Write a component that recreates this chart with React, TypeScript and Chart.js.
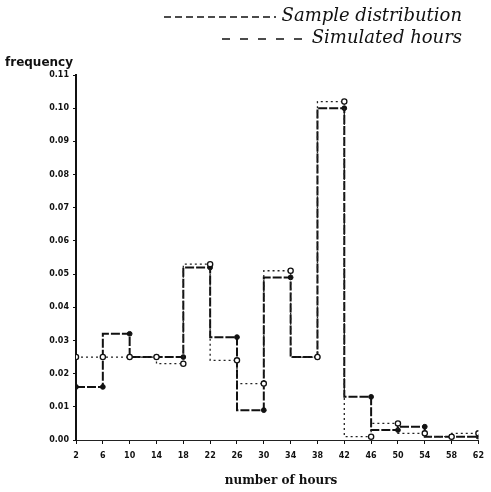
import React, { useEffect, useRef } from "react";
import { Chart, registerables } from "chart.js";

Chart.register(...registerables);

// bin edges (number of hours)
const binEdges = [2, 6, 10, 14, 18, 22, 26, 30, 34, 38, 42, 46, 50, 54, 58, 62];
// frequency per bin (15 bins: 2-6, 6-10, ..., 58-62)
const sampleFreq = [0.025, 0.025, 0.025, 0.023, 0.053, 0.024, 0.017, 0.051, 0.025, 0.102, 0.001, 0.005, 0.002, 0.001, 0.002];
const simulatedFreq = [0.016, 0.032, 0.025, 0.025, 0.052, 0.031, 0.009, 0.049, 0.025, 0.100, 0.013, 0.003, 0.004, 0.001, 0.001];
const yTickValues = [0, 0.01, 0.02, 0.03, 0.04, 0.05, 0.06, 0.07, 0.08, 0.09, 0.1, 0.11];

const legendLabels = ["Sample distribution", "Simulated hours"];
const yTitle = "frequency";
const xTitle = "number of hours";

function stepPoints(values: number[]) {
  const pts = [{ x: binEdges[0], y: values[0] }];
  for (let i = 0; i < values.length; i++) pts.push({ x: binEdges[i + 1], y: values[i] });
  return pts;
}

const textPlugin = {
  id: "texts",
  afterDraw(chart: any) {
    const ctx = chart.ctx;
    ctx.save();
    ctx.fillStyle = "#111";
    ctx.strokeStyle = "#111";
    // legend
    ctx.font = "italic 18px 'DejaVu Serif'";
    ctx.textAlign = "right";
    ctx.textBaseline = "middle";
    ctx.fillText(legendLabels[0], 462, 16);
    ctx.fillText(legendLabels[1], 462, 38);
    ctx.lineWidth = 1.5;
    ctx.setLineDash([7, 4]);
    ctx.beginPath();
    ctx.moveTo(164, 17);
    ctx.lineTo(276, 17);
    ctx.stroke();
    ctx.setLineDash([8, 10]);
    ctx.beginPath();
    ctx.moveTo(222, 39);
    ctx.lineTo(310, 39);
    ctx.stroke();
    ctx.setLineDash([]);
    // axis titles
    ctx.font = "bold 12px 'DejaVu Sans'";
    ctx.textAlign = "left";
    ctx.fillText(yTitle, 5, 63);
    ctx.font = "bold 12px 'DejaVu Serif'";
    ctx.textAlign = "center";
    ctx.fillText(xTitle, 281, 481);
    ctx.restore();
  },
};

export default function App() {
  const ref = useRef<HTMLCanvasElement>(null);
  useEffect(() => {
    if (!ref.current) return;
    const tickFont = { family: "'DejaVu Sans'", size: 8, weight: "bold" as const };
    const chart = new Chart(ref.current, {
      type: "line",
      data: {
        datasets: [
          {
            label: legendLabels[0],
            data: stepPoints(sampleFreq),
            stepped: "after",
            borderColor: "#222",
            borderWidth: 1.3,
            borderDash: [2, 3],
            pointStyle: "circle",
            pointRadius: 2.6,
            pointBackgroundColor: "#fff",
            pointBorderColor: "#111",
            pointBorderWidth: 1.3,
            fill: false,
          },
          {
            label: legendLabels[1],
            data: stepPoints(simulatedFreq),
            stepped: "after",
            borderColor: "#111",
            borderWidth: 2,
            borderDash: [9, 2],
            pointStyle: "circle",
            pointRadius: 2.4,
            pointBackgroundColor: "#111",
            pointBorderColor: "#111",
            pointBorderWidth: 1,
            fill: false,
          },
        ],
      },
      options: {
        responsive: false,
        animation: false,
        layout: { padding: { left: 0, top: 75, right: 5, bottom: 0 } },
        plugins: { legend: { display: false }, tooltip: { enabled: false } },
        scales: {
          x: {
            type: "linear",
            min: 2,
            max: 62,
            afterBuildTicks: (scale: any) => {
              scale.ticks = binEdges.map((v) => ({ value: v }));
            },
            afterFit: (scale: any) => {
              scale.height = 52;
            },
            grid: { drawOnChartArea: false, drawTicks: true, tickLength: 4, color: "#111", lineWidth: 1 },
            border: { display: true, color: "#222", width: 1, dash: [3, 5] },
            ticks: {
              font: tickFont,
              color: "#111",
              padding: 7,
              maxRotation: 0,
              autoSkip: false,
              callback: (v: any) => String(v),
            },
          },
          y: {
            type: "linear",
            min: 0,
            max: 0.11,
            afterBuildTicks: (scale: any) => {
              scale.ticks = yTickValues.map((v) => ({ value: v }));
            },
            afterFit: (scale: any) => {
              scale.width = 76;
            },
            grid: { drawOnChartArea: false, drawTicks: true, tickLength: 3, color: "#111", lineWidth: 1 },
            border: { display: true, color: "#111", width: 2 },
            ticks: {
              font: tickFont,
              color: "#111",
              padding: 4,
              autoSkip: false,
              callback: (v: any) => Number(v).toFixed(2),
            },
          },
        },
      },
      plugins: [textPlugin],
    });
    return () => chart.destroy();
  }, []);
  return (
    <div style={{ position: "fixed", left: 0, top: 0, width: 491, height: 492, background: "#fff" }}>
      <canvas ref={ref} width={491} height={492} />
    </div>
  );
}
